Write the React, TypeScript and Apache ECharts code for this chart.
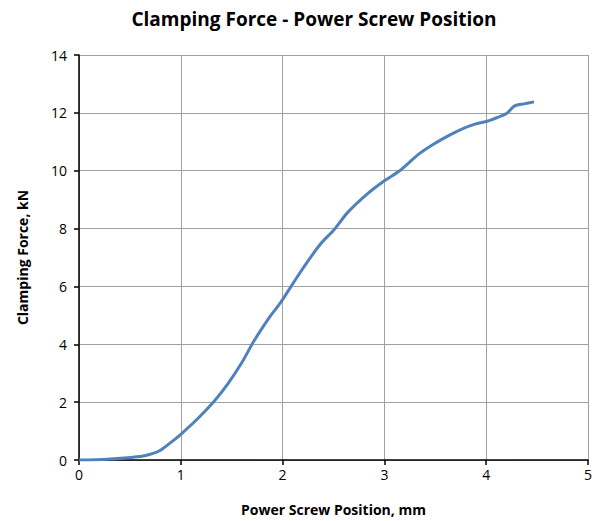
import React, { useEffect, useRef } from "react";
import * as echarts from "echarts";

const positionMm = [0, 0.28, 0.48, 0.63, 0.72, 0.8, 0.9, 1.0, 1.16, 1.33, 1.46, 1.6, 1.72, 1.87, 1.98, 2.14, 2.24, 2.37, 2.51, 2.64, 2.83, 3.0, 3.15, 3.34, 3.47, 3.64, 3.76, 3.89, 4.0, 4.13, 4.2, 4.28, 4.37, 4.47];
const forceKN = [0, 0.03, 0.08, 0.14, 0.22, 0.34, 0.6, 0.89, 1.41, 2.04, 2.62, 3.37, 4.12, 4.93, 5.44, 6.31, 6.83, 7.46, 7.98, 8.56, 9.19, 9.65, 10.0, 10.58, 10.89, 11.23, 11.44, 11.61, 11.7, 11.87, 11.98, 12.24, 12.31, 12.38];

const FONT = "'Open Sans', 'Liberation Sans', sans-serif";

export default function App() {
  const ref = useRef<HTMLDivElement>(null);
  useEffect(() => {
    document.body.style.margin = "0";
    if (!ref.current) return;
    const chart = echarts.init(ref.current, undefined, { renderer: "svg" });
    chart.setOption({
      animation: false,
      backgroundColor: "#ffffff",
      title: {
        text: "Clamping Force - Power Screw Position",
        left: 309,
        textAlign: "center",
        top: 4,
        textStyle: { fontFamily: FONT, fontSize: 19, fontWeight: "bold", color: "#000" },
      },
      grid: { left: 79, right: 12, top: 55, bottom: 61 },
      xAxis: {
        type: "value",
        min: 0,
        max: 5,
        interval: 1,
        name: "Power Screw Position, mm",
        nameLocation: "middle",
        nameGap: 42,
        nameTextStyle: { fontFamily: FONT, fontSize: 14, fontWeight: "bold", color: "#000" },
        axisLine: { show: true, lineStyle: { color: "#000", width: 1.5 } },
        axisTick: { show: true, length: 5, lineStyle: { color: "#000", width: 1.5 } },
        axisLabel: { fontFamily: FONT, fontSize: 14, color: "#000", margin: 7 },
        splitLine: { show: true, lineStyle: { color: "#a0a0a0", width: 1 } },
      },
      yAxis: {
        type: "value",
        min: 0,
        max: 14,
        interval: 2,
        name: "Clamping Force, kN",
        nameLocation: "middle",
        nameGap: 50,
        nameTextStyle: { fontFamily: FONT, fontSize: 14, fontWeight: "bold", color: "#000" },
        axisLine: { show: true, lineStyle: { color: "#000", width: 1.5 } },
        axisTick: { show: true, length: 5, lineStyle: { color: "#000", width: 1.5 } },
        axisLabel: { fontFamily: FONT, fontSize: 14, color: "#000", margin: 12 },
        splitLine: { show: true, lineStyle: { color: "#a0a0a0", width: 1 } },
      },
      series: [
        {
          type: "line",
          data: positionMm.map((x, i) => [x, forceKN[i]]),
          showSymbol: false,
          smooth: 0.3,
          lineStyle: { color: "#4f81bd", width: 3 },
          itemStyle: { color: "#4f81bd" },
        },
      ],
    });
    return () => chart.dispose();
  }, []);
  return <div ref={ref} style={{ width: 600, height: 521 }} />;
}
